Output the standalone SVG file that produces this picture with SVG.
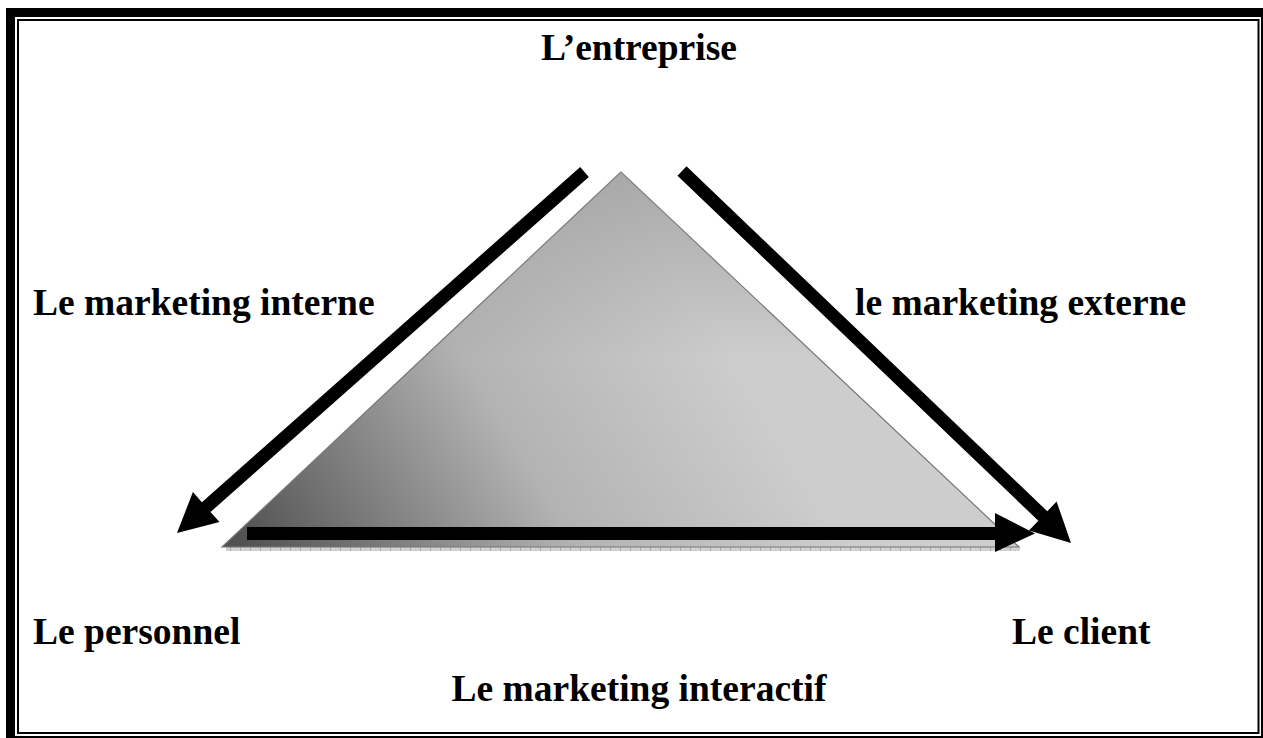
<svg xmlns="http://www.w3.org/2000/svg" width="1263" height="738" viewBox="0 0 1263 738">
  <style>
    .lbl { font-family: "Liberation Serif", "Times New Roman", serif; font-weight: bold; font-size: 37.5px; fill: #000; }
    .arrow { fill: #000; }
  </style>
  <defs>
    <linearGradient id="triFill" gradientUnits="userSpaceOnUse" x1="260" y1="570" x2="700" y2="300">
      <stop offset="0" stop-color="#525252"/>
      <stop offset="0.55" stop-color="#b3b3b3"/>
      <stop offset="1" stop-color="#cdcdcd"/>
    </linearGradient>
    <linearGradient id="apexShade" gradientUnits="userSpaceOnUse" x1="0" y1="172" x2="0" y2="360">
      <stop offset="0" stop-color="#8f8f8f" stop-opacity="0.6"/>
      <stop offset="1" stop-color="#8f8f8f" stop-opacity="0"/>
    </linearGradient>
    <pattern id="hatch" patternUnits="userSpaceOnUse" width="10" height="4">
      <rect width="10" height="4" fill="#d2d2d2"/>
      <rect x="0" y="0" width="1" height="4" fill="#a8a8a8"/>
      <rect x="5" y="2" width="1" height="2" fill="#bcbcbc"/>
    </pattern>
  </defs>

  <rect width="1263" height="738" fill="#fff"/>

  <g id="frame">
    <rect x="6" y="8" width="1257" height="9" fill="#000"/>
    <rect x="6" y="8" width="9" height="730" fill="#000"/>
    <rect x="1261" y="8" width="2" height="730" fill="#000"/>
    <rect x="6" y="736" width="1257" height="2" fill="#000"/>
    <rect x="18" y="20" width="1240.5" height="713" fill="none" stroke="#000" stroke-width="2"/>
  </g>

  <g id="triangle">
    <rect x="226" y="547" width="794" height="4" fill="url(#hatch)"/>
    <polygon points="621,172 222,547 1019,547" fill="url(#triFill)" stroke="#777" stroke-width="1.2"/>
    <polygon points="621,172 222,547 1019,547" fill="url(#apexShade)"/>
  </g>

  <g id="connectors">
    <polygon class="arrow" points="580.2,167.1 201.9,502.2 192.9,492.1 177,533 219.5,522.1 210.5,512 588.8,176.9"/>
    <polygon class="arrow" points="686.5,166.3 1047.3,511.3 1056.6,501.5 1071,543 1029,530.5 1038.3,520.7 677.5,175.7"/>
    <polygon class="arrow" points="247,527 995,527 995,513 1035,533.5 995,552 995,540 247,540"/>
  </g>

  <g id="entreprise"><text class="lbl" x="639" y="60" text-anchor="middle">L’entreprise</text></g>
  <g id="interne"><text class="lbl" x="33" y="315">Le marketing interne</text></g>
  <g id="externe"><text class="lbl" x="855" y="315">le marketing externe</text></g>
  <g id="personnel"><text class="lbl" x="33" y="644">Le personnel</text></g>
  <g id="client"><text class="lbl" x="1012" y="644">Le client</text></g>
  <g id="interactif"><text class="lbl" x="639" y="701" text-anchor="middle">Le marketing interactif</text></g>
</svg>
